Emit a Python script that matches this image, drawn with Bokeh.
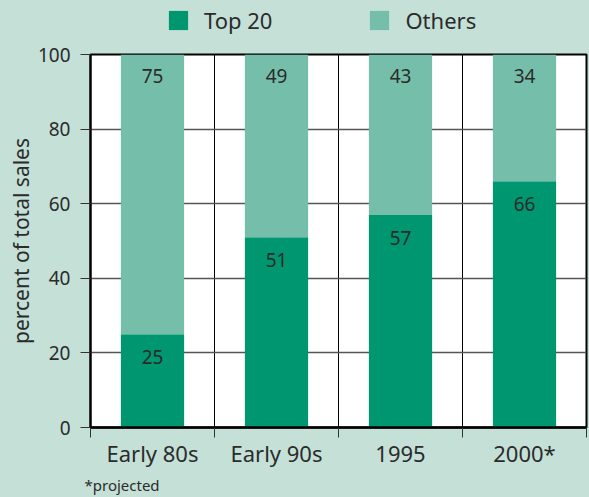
from bokeh.plotting import figure
from bokeh.layouts import column
from bokeh.models import (ColumnDataSource, Range1d, FixedTicker, Legend, LegendItem, Title)
from bokeh.core.properties import value
from bokeh.embed import file_html
from bokeh.resources import INLINE

categories = ["Early 80s", "Early 90s", "1995", "2000*"]
top20 = [25, 51, 57, 66]
others = [75, 49, 43, 34]
series_names = ["Top 20", "Others"]
y_ticks = [0, 20, 40, 60, 80, 100]
footnote = "*projected"

BG = "#c4e0d7"
DARK = "#009670"
LIGHT = "#75bfaa"
TXT = "#2b2b2b"
FONT = "Noto Sans"
W = 589

xs = [i + 0.5 for i in range(len(categories))]
tops = [a + b for a, b in zip(top20, others)]
src = ColumnDataSource(dict(
    x=xs, top20=top20, others=others, total=tops,
    top20_lbl=[str(v) for v in top20], others_lbl=[str(v) for v in others],
))

# ---- legend strip ----
pl = figure(width=W, height=40, output_backend="svg", toolbar_location=None,
            x_range=Range1d(0, 1), y_range=Range1d(0, 1),
            x_axis_type=None, y_axis_type=None,
            background_fill_alpha=0, border_fill_color=BG, outline_line_color=None,
            min_border=0, styles={"background-color": BG})
pl.grid.visible = False
d1 = pl.vbar(x="x", top="top20", width=0.51, source=src, color=DARK, line_color=None, visible=False)
d2 = pl.vbar(x="x", top="others", width=0.51, source=src, color=LIGHT, line_color=None, visible=False)
legend = Legend(items=[LegendItem(label=series_names[0], renderers=[d1]),
                       LegendItem(label=series_names[1], renderers=[d2])],
                orientation="horizontal", location=(76, 5),
                background_fill_alpha=0, border_line_color=None,
                glyph_width=24, glyph_height=24, label_standoff=14, spacing=95,
                label_text_font=FONT, label_text_font_size="22px", label_text_color=TXT,
                padding=0, margin=0)
pl.add_layout(legend, "center")

# ---- main chart ----
p = figure(width=W, height=457, output_backend="svg", toolbar_location=None,
           x_range=Range1d(0, len(categories)), y_range=Range1d(0, 100),
           background_fill_color="white", border_fill_color=BG,
           min_border_left=90, min_border_right=3, min_border_top=14, min_border_bottom=70,
           styles={"background-color": BG})

r1 = p.vbar(x="x", bottom=0, top="top20", width=0.51, source=src, color=DARK, line_color=None)
r2 = p.vbar(x="x", bottom="top20", top="total", width=0.51, source=src, color=LIGHT, line_color=None)

p.text(x="x", y="top20", text="top20_lbl", source=src, text_align="center", text_baseline="top",
       y_offset=16, text_font=value(FONT), text_font_size="19px", text_color=TXT)
p.text(x="x", y="total", text="others_lbl", source=src, text_align="center", text_baseline="top",
       y_offset=14, text_font=value(FONT), text_font_size="19px", text_color=TXT)

p.outline_line_color = "black"
p.outline_line_width = 2

# x axis: labels at category centers, ticks/grid at boundaries
xt = FixedTicker(ticks=xs, minor_ticks=list(range(len(categories) + 1)))
p.xaxis.ticker = xt
p.xaxis.major_label_overrides = {x: c for x, c in zip(xs, categories)}
p.xaxis.major_tick_out = 0
p.xaxis.major_tick_in = 0
p.xaxis.minor_tick_out = 10
p.xaxis.minor_tick_in = 0
p.xaxis.minor_tick_line_color = "#333333"
p.xaxis.axis_line_color = "black"
p.xaxis.axis_line_width = 2.5
p.xaxis.major_label_standoff = 0
p.xaxis.major_label_text_font = FONT
p.xaxis.major_label_text_font_size = "22px"
p.xaxis.major_label_text_color = TXT
p.xgrid.ticker = xt
p.xgrid.grid_line_color = None
p.xgrid.minor_grid_line_color = "black"
p.xgrid.minor_grid_line_width = 1

p.yaxis.ticker = FixedTicker(ticks=y_ticks)
p.yaxis.major_tick_out = 10
p.yaxis.major_tick_in = 0
p.yaxis.minor_tick_line_color = None
p.yaxis.major_tick_line_color = "#333333"
p.yaxis.axis_line_color = "black"
p.yaxis.axis_line_width = 2
p.yaxis.major_label_standoff = 10
p.yaxis.major_label_text_font = FONT
p.yaxis.major_label_text_font_size = "19px"
p.yaxis.major_label_text_color = TXT
p.yaxis.axis_label = "percent of total sales"
p.yaxis.axis_label_text_font = FONT
p.yaxis.axis_label_text_font_style = "normal"
p.yaxis.axis_label_text_font_size = "21px"
p.yaxis.axis_label_text_color = TXT
p.yaxis.axis_label_standoff = 0
p.ygrid.grid_line_color = "#555555"
p.ygrid.grid_line_width = 1.5

t = Title(text=footnote, align="left", offset=-6, text_font=FONT, text_font_size="15px",
          text_font_style="normal", text_color=TXT, standoff=4)
p.add_layout(t, "below")

layout = column(pl, p, spacing=0, styles={"background-color": BG})
open("out.html", "w").write(file_html(layout, INLINE))
